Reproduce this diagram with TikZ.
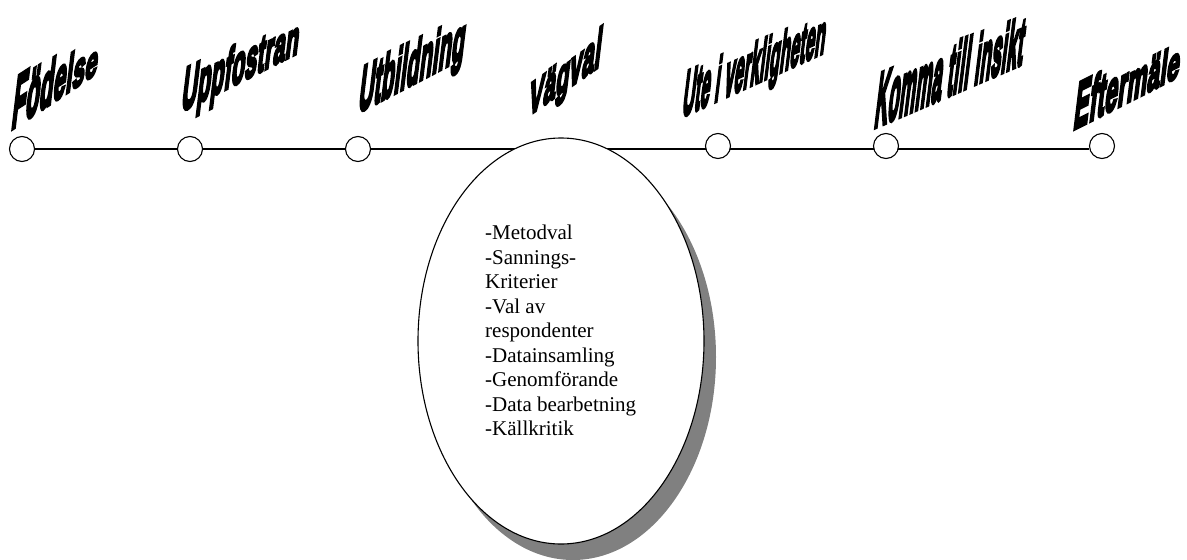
\documentclass[tikz,border=0pt]{standalone}
\usepackage{fontspec}
\setmainfont{Liberation Serif}
\newfontfamily\artfont{Liberation Sans}[BoldFeatures={FakeBold=7}]
\usepackage{tikz}
\usetikzlibrary{shapes.geometric, shadows, backgrounds}

\tikzset{
    milestone/.style={circle, draw, fill=white, line width=1.1pt, minimum size=25pt, inner sep=0pt},
    letter/.style={font=\artfont\bfseries\fontsize{20}{24}\selectfont, anchor=base west, inner sep=0pt, minimum size=0pt},
    choice/.style={ellipse, draw, fill=white, line width=1.1pt, minimum width=286pt, minimum height=406pt, inner sep=0pt,
        drop shadow={shadow xshift=12pt, shadow yshift=-16pt, fill=black!50, opacity=1}},
    steps/.style={font=\fontsize{21}{24.5}\selectfont, align=left, inner sep=0pt, anchor=north west}
}

% word space inside a slanted word
\newcommand\wsp{\hbox to 5.6pt{}}

% word art: letters on a slanted base line, shrinking (or growing) from left to right
\newcommand\slantword[6]{%
    \node[letter, #3] (#1-0) at #2 {};
    \foreach \ch [count=\i, remember=\i as \j (initially 0)] in {#6} {
        \pgfmathsetmacro\ys{#4-#5*(\i-1)}
        \node[letter, #3, yscale=\ys] (#1-\i) at (#1-\j.base east) {\ch};
    }
}

\begin{document}
\begin{tikzpicture}[x=1pt, y=-1pt]
    \useasboundingbox (0,0) rectangle (1187,560);

    % circles on the line
    \node[milestone] (fodelse) at (22,149) {};
    \node[milestone] (uppfostran) at (190,149) {};
    \node[milestone] (utbildning) at (358,149) {};
    \node[milestone] (ute) at (718,146) {};
    \node[milestone] (komma) at (886,146) {};
    \node[milestone] (eftermale) at (1102,146) {};
    \begin{pgfonlayer}{background}
        \draw[line width=1.1pt] (fodelse.east) -- (fodelse.east -| eftermale.west);
    \end{pgfonlayer}

    % the choice
    \node[choice] (vagval) at (561,341) {};
    \node[steps] (vagvalsteps) at (485,225) {-Metodval\\-Sannings-\\Kriterier\\-Val av\\respondenter\\-Datainsamling\\-Genomförande\\-Data bearbetning\\-Källkritik};

    % slanted titles
    \slantword{lfodelse}{(10,130)}{yslant=0.65, xslant=0.13, xscale=1.1}{3.5}{0.24}{F,ö,d,e,l,s,e}
    \slantword{luppfostran}{(180,112)}{yslant=0.5, xslant=0.13, xscale=1.06}{2.95}{0.07}{U,p,p,f,o,s,t,r,a,n}
    \slantword{lutbildning}{(357,113)}{yslant=0.52, xslant=0.13, xscale=1.03}{3.1}{0.03}{U,t,b,i,l,d,n,i,n,g}
    \slantword{lvagval}{(527,117)}{yslant=0.7, xslant=0.13, xscale=1.08}{2.23}{-0.084}{V,ä,g,v,a,l}
    \slantword{lute}{(681,117)}{yslant=0.45, xslant=0.13, xscale=0.82}{3.1}{0.025}{U,t,e,\wsp,i,\wsp,v,e,r,k,l,i,g,h,e,t,e,n}
    \slantword{lkomma}{(873,128)}{yslant=0.43, xslant=0.13, xscale=0.89}{3.7}{0.03}{K,o,m,m,a,\wsp,t,i,l,l,\wsp,i,n,s,i,k,t}
    \slantword{leftermale}{(1072,130)}{yslant=0.5, xslant=0.13, xscale=1.12}{3.14}{0.12}{E,f,t,e,r,m,ä,l,e}
\end{tikzpicture}
\end{document}
